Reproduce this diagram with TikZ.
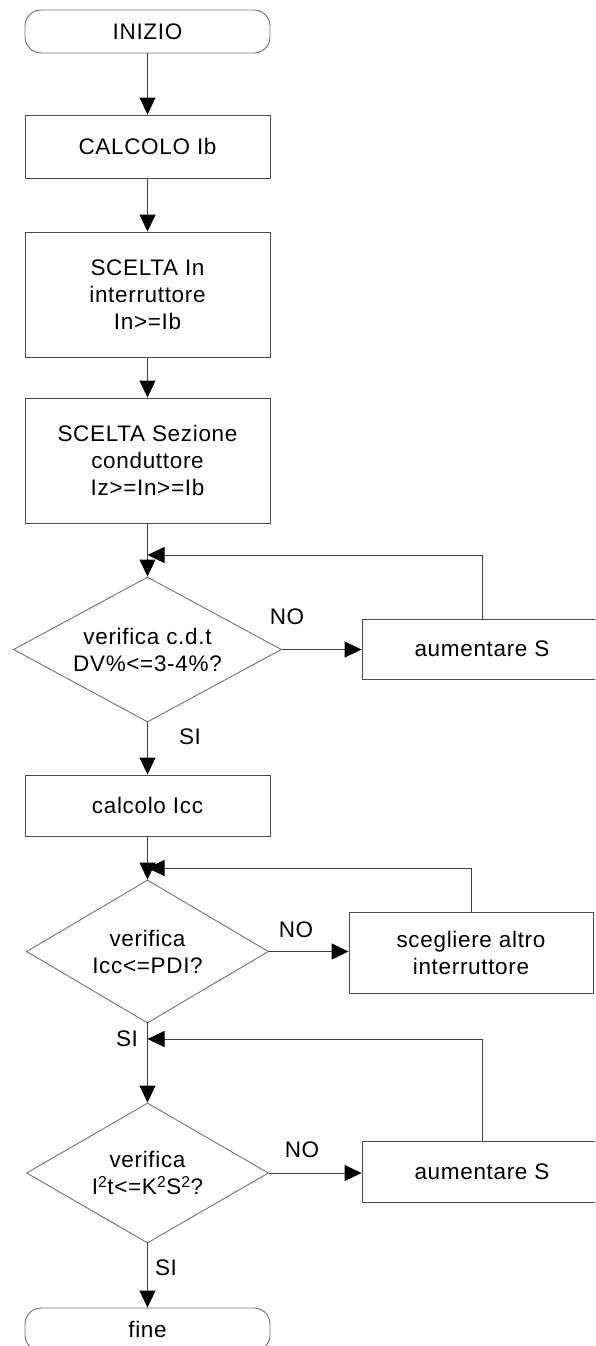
\documentclass[tikz,border=0pt]{standalone}
\usepackage{fontspec}
\setmainfont{Liberation Sans}[LetterSpace=3]
\usetikzlibrary{arrows.meta,shapes.geometric}
\tikzset{
  base/.style={draw=black!70, line width=0.9pt, font=\fontsize{22.5}{27}\selectfont, align=center, inner sep=2pt},
  term/.style={base, draw=black!55, rectangle, rounded corners=16pt, minimum width=245pt, minimum height=43pt},
  proc/.style={base, rectangle, minimum width=245pt},
  sideproc/.style={base, rectangle},
  decis/.style={base, draw=black!55, diamond, aspect=1.85, inner sep=0pt},
  conn/.style={draw=black!75, line width=0.9pt, -{Triangle[length=17pt,width=16pt,color=black]}},
  lab/.style={font=\fontsize{22.5}{27}\selectfont, inner sep=0pt}
}
\begin{document}
\begin{tikzpicture}[x=1pt,y=-1pt]
\useasboundingbox (0,0) rectangle (595,1346);
\clip (0,0) rectangle (595,1346);
\node[term] (start) at (147.5,31.5) {INIZIO};
\node[proc, minimum height=63pt] (calc) at (147.5,146.5) {CALCOLO Ib};
\node[proc, minimum height=125pt] (sIn) at (147.5,294.5) {SCELTA In\\interruttore\\In>=Ib};
\node[proc, minimum height=125pt] (sSez) at (147.5,460.5) {SCELTA Sezione\\conduttore\\Iz>=In>=Ib};
\node[decis, minimum width=268pt, minimum height=145pt] (d1) at (147.5,649.5) {verifica c.d.t\\DV\%<=3-4\%?};
\node[sideproc, minimum width=240pt, minimum height=60pt] (aum1) at (482,649) {aumentare S};
\node[proc, minimum height=61pt] (icc) at (147.5,805.5) {calcolo Icc};
\node[decis, minimum width=242pt, minimum height=143pt] (d2) at (147.5,951.5) {verifica\\Icc<=PDI?};
\node[sideproc, minimum width=244pt, minimum height=81pt] (scegli) at (471,952.5) {scegliere altro\\interruttore};
\node[decis, minimum width=242pt, minimum height=140pt] (d3) at (147.5,1173) {verifica\\I\textsuperscript{2}t<=K\textsuperscript{2}S\textsuperscript{2}?};
\node[sideproc, minimum width=240pt, minimum height=61pt] (aum2) at (482,1171.5) {aumentare S};
\node[term] (fine) at (147.5,1329.5) {fine};

\coordinate (j1) at (147.5,555);
\coordinate (j2) at (147.5,868);
\coordinate (j3) at (147.5,1039);

\draw[conn] (start) -- (calc);
\draw[conn] (calc) -- (sIn);
\draw[conn] (sIn) -- (sSez);
\draw[conn] (sSez) -- (d1);
\draw[conn] (d1.east) -- (d1.east -| aum1.west);
\draw[conn] (aum1.north) |- (j1);
\draw[conn] (d1) -- (icc);
\draw[conn] (icc) -- (d2);
\draw[conn] (d2.east) -- (d2.east -| scegli.west);
\draw[conn] (scegli.north) |- (j2);
\draw[conn] (d2) -- (d3);
\draw[conn] (aum2.north) |- (j3);
\draw[conn] (d3.east) -- (d3.east -| aum2.west);
\draw[conn] (d3) -- (fine);

\node[lab] (no1) at (287,617) {NO};
\node[lab] (si1) at (190,737) {SI};
\node[lab] (no2) at (296,930) {NO};
\node[lab] (si2) at (127,1039) {SI};
\node[lab] (no3) at (302,1150) {NO};
\node[lab] (si3) at (166,1268) {SI};
\end{tikzpicture}
\end{document}
